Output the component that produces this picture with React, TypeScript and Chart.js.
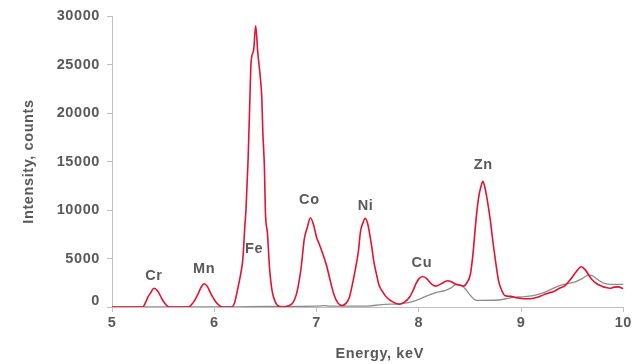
import React, { useEffect, useRef } from "react";
import { Chart, registerables } from "chart.js";

Chart.register(...registerables);

// Energy (keV) / intensity (counts) of the measured spectrum (red)
const sampleEnergy = [
  5.0, 5.3, 5.33, 5.35, 5.38, 5.41, 5.45, 5.49, 5.53, 5.56,
  5.75, 5.79, 5.83, 5.87, 5.9, 5.93, 5.97, 6.01, 6.05, 6.08,
  6.17, 6.2, 6.23, 6.26, 6.28, 6.3, 6.31, 6.33, 6.345, 6.36, 6.385, 6.405, 6.425, 6.45, 6.465, 6.475, 6.49, 6.5, 6.52, 6.54, 6.565, 6.6, 6.63, 6.67,
  6.72, 6.77, 6.8, 6.82, 6.85, 6.88, 6.91, 6.94, 6.97, 7.0, 7.03, 7.07, 7.1, 7.13, 7.17, 7.21, 7.25,
  7.29, 7.32, 7.35, 7.38, 7.41, 7.43, 7.455, 7.475, 7.5, 7.515, 7.54, 7.56, 7.59, 7.61, 7.65, 7.69, 7.75, 7.81,
  7.86, 7.905, 7.94, 7.97, 8.0, 8.04, 8.08, 8.12, 8.165, 8.22, 8.28, 8.32, 8.36, 8.4, 8.44, 8.47, 8.505,
  8.53, 8.555, 8.575, 8.59, 8.61, 8.626, 8.645, 8.67, 8.7, 8.725, 8.75, 8.78, 8.8, 8.83, 8.86, 8.9, 8.95,
  9.0, 9.06, 9.11, 9.16, 9.22, 9.27, 9.32, 9.38, 9.43, 9.48, 9.53, 9.59, 9.63, 9.69, 9.74, 9.79, 9.83, 9.87, 9.91, 9.95, 10.0,
];
const sampleCounts = [
  0, 0, 500, 1000, 1500, 1930, 1600, 800, 200, 0,
  0, 400, 1100, 2000, 2400, 2150, 1300, 600, 150, 0,
  0, 500, 1900, 3500, 5000, 8500, 10000, 15000, 20200, 25200, 26500, 29000, 26300, 23700, 21500, 18000, 14500, 9800, 7600, 4100, 1700, 450, 80, 0,
  100, 450, 1200, 2100, 4100, 7000, 8200, 9200, 8500, 7200, 6400, 5200, 4200, 2900, 1300, 400, 150,
  400, 950, 2300, 3900, 5800, 7800, 8700, 9150, 8600, 7800, 6200, 4700, 3200, 2300, 1500, 950, 500, 280,
  500, 950, 1600, 2350, 2900, 3150, 2900, 2400, 2150, 2400, 2700, 2600, 2350, 2250, 2170, 2500, 3400,
  5500, 8500, 10500, 11600, 12500, 12950, 12400, 11000, 8900, 6700, 4750, 2700, 2000, 1300, 1120, 1100, 950,
  880, 850, 870, 1000, 1250, 1450, 1600, 1950, 2200, 2800, 3500, 4150, 3800, 2850, 2400, 2150, 2000, 1930, 2050, 2070, 1880,
];

// Background / reference spectrum (gray)
const refEnergy = [
  5.0, 6.2, 6.5, 7.0, 7.08, 7.12, 7.5, 7.64, 7.8, 7.9, 8.0, 8.08, 8.165, 8.26, 8.32, 8.37, 8.42, 8.46, 8.5, 8.54, 8.57,
  8.78, 8.85, 8.91, 9.0, 9.106, 9.2, 9.27, 9.33, 9.4, 9.47, 9.53, 9.6, 9.66, 9.69, 9.74, 9.82, 9.88, 10.0,
];
const refCounts = [
  0, 20, 50, 80, 150, 80, 100, 250, 330, 450, 790, 1150, 1480, 1720, 2000, 2350, 2200, 1800, 1250, 800, 690,
  720, 850, 960, 1050, 1140, 1400, 1700, 2000, 2280, 2450, 2600, 2950, 3280, 3250, 2900, 2400, 2340, 2340,
];

// Element peak labels, anchored in data units
const elementNames = ["Cr", "Mn", "Fe", "Co", "Ni", "Cu", "Zn"];
const elementEnergy = [5.41, 5.9, 6.39, 6.93, 7.48, 8.03, 8.63];
const elementLabelCounts = [3200, 3930, 6000, 11070, 10450, 4550, 14590];

const xTicks = [5, 6, 7, 8, 9, 10];
const yTicks = [0, 5000, 10000, 15000, 20000, 25000, 30000];
const xTitle = "Energy, keV";
const yTitle = "Intensity, counts";

const TEXT = "#595959";
const AXIS = "#bfbfbf";
const FONT = "'Liberation Sans', Arial, Helvetica, sans-serif";
const SPACING = "0.6px";
const SIZE = 14.5;

export default function App() {
  const ref = useRef<HTMLCanvasElement | null>(null);

  useEffect(() => {
    if (!ref.current) return;
    const spacing = {
      id: "spacing",
      beforeLayout(chart: any) {
        chart.ctx.letterSpacing = SPACING;
      },
      beforeDraw(chart: any) {
        chart.ctx.letterSpacing = SPACING;
      },
    };
    const labels = {
      id: "peakLabels",
      afterDraw(chart: any) {
        const { ctx, scales, chartArea } = chart;
        ctx.save();
        ctx.letterSpacing = SPACING;
        ctx.font = `bold ${SIZE}px ${FONT}`;
        ctx.fillStyle = TEXT;
        ctx.textAlign = "center";
        ctx.textBaseline = "middle";
        elementNames.forEach((n, i) => {
          ctx.fillText(n, scales.x.getPixelForValue(elementEnergy[i]), scales.y.getPixelForValue(elementLabelCounts[i]));
        });
        // x axis title (slightly right of centre, as in the source)
        ctx.fillText(xTitle, (chartArea.left + chartArea.right) / 2 + 12, chartArea.bottom + 47);
        // zero label sits a little above the axis line
        ctx.textAlign = "right";
        ctx.fillText(String(yTicks[0]), chartArea.left - 12, scales.y.getPixelForValue(yTicks[0]) - 6);
        ctx.restore();
      },
    };
    const chart = new Chart(ref.current, {
      type: "line",
      data: {
        datasets: [
          {
            data: sampleEnergy.map((x, i) => ({ x, y: sampleCounts[i] })),
            borderColor: "#e3122f",
            borderWidth: 1.6,
            pointRadius: 0,
            cubicInterpolationMode: "monotone",
            fill: false,
          },
          {
            data: refEnergy.map((x, i) => ({ x, y: refCounts[i] })),
            borderColor: "#8c8c8c",
            borderWidth: 1.3,
            pointRadius: 0,
            cubicInterpolationMode: "monotone",
            fill: false,
          },
        ],
      },
      options: {
        animation: false,
        responsive: false,
        layout: { padding: { left: 0, right: 9, top: 16, bottom: 0 } },
        plugins: { legend: { display: false }, tooltip: { enabled: false } },
        scales: {
          x: {
            type: "linear",
            min: 5,
            max: 10,
            afterBuildTicks: (s: any) => {
              s.ticks = xTicks.map((v) => ({ value: v }));
            },
            afterFit: (s: any) => {
              s.height = 57;
            },
            ticks: {
              color: TEXT,
              font: { family: FONT, size: SIZE, weight: "bold" },
              padding: 2,
              callback: (v: any) => String(v),
            },
            grid: { drawOnChartArea: false, drawTicks: true, tickLength: 5, color: AXIS },
            border: { color: AXIS, width: 1 },
            title: { display: false, text: xTitle },
          },
          y: {
            min: 0,
            max: 30000,
            afterBuildTicks: (s: any) => {
              s.ticks = yTicks.map((v) => ({ value: v }));
            },
            afterFit: (s: any) => {
              s.width = 112;
            },
            ticks: {
              color: TEXT,
              font: { family: FONT, size: SIZE, weight: "bold" },
              padding: 7,
              callback: (v: any) => (v === 0 ? "" : String(v)),
            },
            grid: { drawOnChartArea: false, drawTicks: true, tickLength: 5, color: AXIS },
            border: { color: AXIS, width: 1 },
            title: {
              display: true,
              text: yTitle,
              color: TEXT,
              font: { family: FONT, size: SIZE, weight: "bold" },
              padding: { top: 20, bottom: 20 },
            },
          },
        },
      },
      plugins: [spacing, labels],
    });
    return () => chart.destroy();
  }, []);

  return (
    <div style={{ position: "fixed", left: 0, top: 0, width: 634, height: 364, background: "#fff" }}>
      <canvas ref={ref} width={634} height={364} style={{ width: 634, height: 364, display: "block" }} />
    </div>
  );
}
